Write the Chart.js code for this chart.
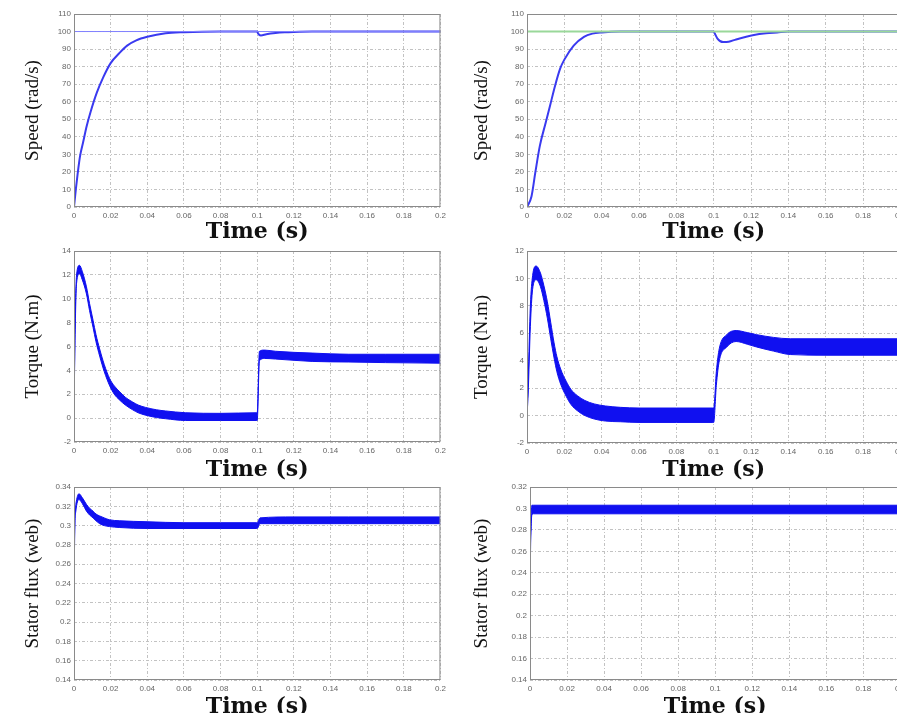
<!DOCTYPE html>
<html>
<head>
<meta charset="utf-8">
<script src="https://cdn.jsdelivr.net/npm/chart.js@4.4.1/dist/chart.umd.min.js"></script>
<style>
  html, body { margin: 0; padding: 0; background: #fff; overflow: hidden; width: 897px; height: 713px; }
  canvas { position: absolute; }
</style>
</head>
<body>
<canvas id="c1" width="450" height="243" style="left:0px;top:0px"></canvas>
<canvas id="c2" width="460" height="243" style="left:450px;top:0px"></canvas>
<canvas id="c3" width="450" height="481" style="left:0px;top:0px"></canvas>
<canvas id="c4" width="460" height="481" style="left:450px;top:0px"></canvas>
<canvas id="c5" width="450" height="718" style="left:0px;top:0px"></canvas>
<canvas id="c6" width="460" height="718" style="left:450px;top:0px"></canvas>
<script>
// speed, left case
var speedT1 = [0, 0.001, 0.002, 0.0033, 0.005, 0.0069, 0.009, 0.0124, 0.016, 0.02, 0.025, 0.029, 0.034, 0.04, 0.05, 0.06, 0.08, 0.1, 0.1005, 0.102, 0.105, 0.11, 0.115, 0.12, 0.13, 0.2];
var speedV1 = [0, 10, 19, 29, 37, 46, 54, 65, 74, 82, 88, 92, 95, 97, 99, 99.6, 100, 100, 98.8, 97.8, 98.5, 99.2, 99.6, 99.8, 100, 100];
// speed, right case
var speedT2 = [0, 0.0024, 0.0045, 0.0069, 0.01, 0.0124, 0.015, 0.0178, 0.02, 0.025, 0.0305, 0.035, 0.04, 0.05, 0.1, 0.1005, 0.102, 0.105, 0.108, 0.112, 0.1215, 0.128, 0.134, 0.14, 0.2];
var speedV2 = [0, 6, 20, 35, 48, 58, 69, 79, 84, 92, 97, 98.8, 99.5, 100, 100, 99, 96, 94, 94.2, 95.5, 98, 99, 99.5, 100, 100];
var speedRefT = [0, 0.2];
var speedRefV = [100, 100];

// torque, left case (ripple band: upper / lower)
var torqueT1 = [0, 0.0005, 0.0014, 0.003, 0.0045, 0.0068, 0.0085, 0.0104, 0.012, 0.014, 0.0165, 0.0195, 0.022, 0.025, 0.028, 0.032, 0.035, 0.039, 0.045, 0.05, 0.061, 0.08, 0.0995, 0.1, 0.1012, 0.104, 0.11, 0.13, 0.15, 0.17, 0.2];
var torqueUp1 = [0, 7, 12, 12.8, 12.3, 11, 9.6, 8.2, 7.0, 5.8, 4.5, 3.3, 2.7, 2.2, 1.75, 1.35, 1.1, 0.9, 0.7, 0.6, 0.45, 0.4, 0.45, 0.45, 5.6, 5.7, 5.6, 5.45, 5.35, 5.35, 5.35];
var torqueLo1 = [0, 6, 11.3, 12.1, 11.6, 10.4, 9.0, 7.6, 6.4, 5.2, 3.9, 2.7, 2.0, 1.5, 1.1, 0.7, 0.45, 0.25, 0.05, -0.05, -0.2, -0.2, -0.2, -0.2, 4.8, 5.0, 4.95, 4.75, 4.7, 4.65, 4.6];
// torque, right case
var torqueT2 = [0, 0.0006, 0.0018, 0.003, 0.0049, 0.0072, 0.009, 0.0109, 0.0127, 0.0145, 0.016, 0.018, 0.021, 0.0236, 0.027, 0.031, 0.036, 0.042, 0.05, 0.06, 0.08, 0.0995, 0.1, 0.1014, 0.103, 0.107, 0.112, 0.118, 0.123, 0.132, 0.141, 0.16, 0.18, 0.2];
var torqueUp2 = [0, 2.5, 8, 10.2, 10.9, 10.4, 9.5, 8.3, 6.8, 5.3, 4.3, 3.4, 2.5, 1.9, 1.45, 1.1, 0.85, 0.7, 0.6, 0.55, 0.55, 0.55, 0.55, 3.2, 4.9, 5.9, 6.2, 6.05, 5.9, 5.7, 5.6, 5.6, 5.6, 5.6];
var torqueLo2 = [0, 1.5, 6.5, 9.2, 9.9, 9.4, 8.4, 7.1, 5.6, 4.2, 3.2, 2.3, 1.4, 0.8, 0.35, 0.0, -0.25, -0.4, -0.45, -0.5, -0.5, -0.5, -0.5, 2.2, 4.0, 5.0, 5.4, 5.2, 5.0, 4.7, 4.45, 4.4, 4.4, 4.4];

// stator flux, left case
var fluxT1 = [0, 0.0003, 0.001, 0.0027, 0.0045, 0.0068, 0.0085, 0.0104, 0.012, 0.014, 0.0165, 0.0194, 0.025, 0.04, 0.06, 0.08, 0.0995, 0.1, 0.1015, 0.12, 0.15, 0.2];
var fluxUp1 = [0.14, 0.29, 0.322, 0.333, 0.329, 0.322, 0.318, 0.315, 0.312, 0.310, 0.308, 0.306, 0.305, 0.304, 0.303, 0.303, 0.303, 0.303, 0.308, 0.309, 0.309, 0.309];
var fluxLo1 = [0.14, 0.28, 0.315, 0.327, 0.323, 0.315, 0.311, 0.308, 0.305, 0.302, 0.300, 0.299, 0.298, 0.297, 0.297, 0.297, 0.297, 0.297, 0.302, 0.302, 0.302, 0.302];
// stator flux, right case
var fluxT2 = [0, 0.0002, 0.0006, 0.001, 0.002, 0.2];
var fluxUp2 = [0.14, 0.25, 0.29, 0.303, 0.303, 0.303];
var fluxLo2 = [0.14, 0.24, 0.28, 0.294, 0.295, 0.295];

var BLUE = '#1010f0';

function pts(ts, vs) {
	return ts.map(function(t, i) { return {x: t, y: vs[i]}; });
}

var boxPlugin = {
	id: 'box',
	afterDraw: function(chart) {
		var a = chart.chartArea, ctx = chart.ctx;
		ctx.save();
		ctx.strokeStyle = '#8a8a8a';
		ctx.lineWidth = 1;
		ctx.strokeRect(a.left + 0.5, a.top + 0.5, a.right - a.left - 1, a.bottom - a.top - 1);
		ctx.restore();
	}
};

function round2(v) { return String(Math.round(v * 100) / 100); }

function makePanel(id, p) {
	new Chart(document.getElementById(id), {
		type: 'line',
		data: { datasets: p.datasets },
		plugins: [boxPlugin],
		options: {
			responsive: false,
			animation: false,
			devicePixelRatio: 1,
			layout: { padding: { left: 0, right: p.padRight, top: p.padTop, bottom: 0 } },
			plugins: { legend: { display: false }, tooltip: { enabled: false } },
			elements: { point: { radius: 0 }, line: { cubicInterpolationMode: 'monotone' } },
			scales: {
				x: {
					type: 'linear', min: 0, max: 0.2,
					afterFit: function(s) { s.height = p.xh; },
					border: { display: false, dash: [3, 2, 1, 2] },
					grid: { color: '#c2c2c2', drawTicks: false },
					ticks: { stepSize: 0.02, autoSkip: false, maxRotation: 0, padding: 4, color: '#666',
						font: { family: 'Liberation Sans', size: 8 }, callback: round2 },
					title: { display: true, text: 'Time (s)', color: '#111', padding: { top: 0, bottom: 0 },
						font: { family: 'DejaVu Serif', size: 22, weight: 'bold', lineHeight: 1 } }
				},
				y: {
					type: 'linear', min: p.ymin, max: p.ymax,
					afterFit: function(s) { s.width = p.yw; },
					border: { display: false, dash: [3, 2, 1, 2] },
					grid: { color: '#c2c2c2', drawTicks: false },
					ticks: { stepSize: p.ystep, padding: 3, color: '#666',
						font: { family: 'Liberation Sans', size: 8 }, callback: round2 },
					title: { display: true, text: p.ytitle, color: '#111', padding: { top: p.ytitlePad, bottom: 0 },
						font: { family: 'Liberation Serif', size: 19, lineHeight: 1 } }
				}
			}
		}
	});
}

function line(ts, vs, color, w) {
	return { data: pts(ts, vs), borderColor: color, borderWidth: w, fill: false };
}
function band(ts, lo, up) {
	return [
		{ data: pts(ts, lo), borderColor: BLUE, borderWidth: 1, fill: false },
		{ data: pts(ts, up), borderColor: BLUE, borderWidth: 1, fill: '-1', backgroundColor: BLUE }
	];
}

makePanel('c1', { padTop: 14, padRight: 7, yw: 74, xh: 36, ymin: 0, ymax: 110, ystep: 10,
	ytitle: 'Speed (rad/s)', ytitlePad: 24,
	datasets: [line(speedRefT, speedRefV, '#8080ff', 1), line(speedT1, speedV1, '#3a3af0', 2)] });
makePanel('c2', { padTop: 14, padRight: 9, yw: 77, xh: 36, ymin: 0, ymax: 110, ystep: 10,
	ytitle: 'Speed (rad/s)', ytitlePad: 23,
	datasets: [line(speedRefT, speedRefV, '#9ad89a', 2), line(speedT2, speedV2, '#3a3af0', 2)] });
makePanel('c3', { padTop: 251, padRight: 7, yw: 74, xh: 39, ymin: -2, ymax: 14, ystep: 2,
	ytitle: 'Torque (N.m)', ytitlePad: 24,
	datasets: band(torqueT1, torqueLo1, torqueUp1) });
makePanel('c4', { padTop: 251, padRight: 9, yw: 77, xh: 38, ymin: -2, ymax: 12, ystep: 2,
	ytitle: 'Torque (N.m)', ytitlePad: 23,
	datasets: band(torqueT2, torqueLo2, torqueUp2) });
makePanel('c5', { padTop: 487, padRight: 7, yw: 74, xh: 38, ymin: 0.14, ymax: 0.34, ystep: 0.02,
	ytitle: 'Stator flux (web)', ytitlePad: 24,
	datasets: band(fluxT1, fluxLo1, fluxUp1) });
makePanel('c6', { padTop: 487, padRight: 9, yw: 80, xh: 38, ymin: 0.14, ymax: 0.32, ystep: 0.02,
	ytitle: 'Stator flux (web)', ytitlePad: 23,
	datasets: band(fluxT2, fluxLo2, fluxUp2) });
</script>
</body>
</html>
